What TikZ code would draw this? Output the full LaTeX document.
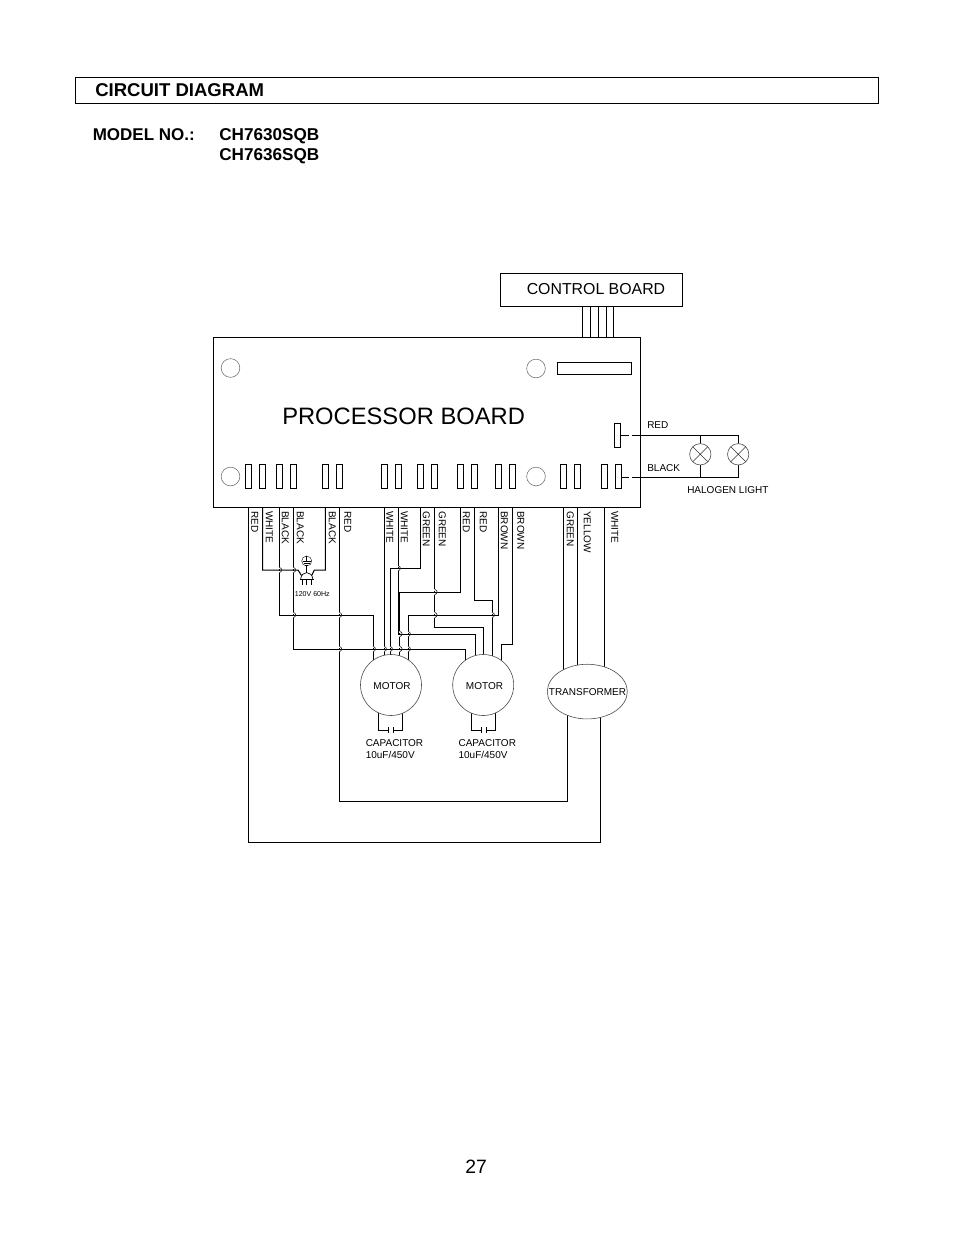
\documentclass[tikz,border=0pt]{standalone}
\usepackage{fontspec}
\setmainfont{Liberation Sans}
\usetikzlibrary{shapes.geometric,backgrounds}
\tikzset{
	wire/.style={line width=0.75pt,line join=miter},
	hopline/.style={line width=0.5pt,black!85},
	terminal/.style={draw,line width=0.65pt,rectangle,inner sep=0pt,minimum width=4.5pt,minimum height=18pt},
	hole/.style={draw=black!60,line width=0.4pt,circle,inner sep=0pt,minimum size=14pt},
	tiny label/.style={font=\fontsize{7.5}{9}\selectfont,inner sep=0pt},
	wire label/.style={tiny label,rotate=-90,anchor=west},
	motor/.style={draw=black!70,line width=0.45pt,fill=white,circle,inner sep=0pt,minimum size=45.75pt,tiny label},
	lamp/.style={draw=black!70,line width=0.45pt,fill=white,circle,inner sep=0pt,minimum size=16pt,path picture={\draw[black!80,line width=0.4pt] (path picture bounding box.south west)--(path picture bounding box.north east) (path picture bounding box.north west)--(path picture bounding box.south east);}}
}
\begin{document}
\begin{tikzpicture}[x=0.75pt,y=-0.75pt]
	\useasboundingbox (0,0) rectangle (954,1235);
	% heading
	\node[draw,line width=0.7pt,rectangle,inner sep=0pt,minimum width=602.25pt,minimum height=19.5pt] (headbox) at (477,90.5) {};
	\node[anchor=west,inner sep=0pt,font=\fontsize{13.9}{16}\bfseries\selectfont] (headtext) at (95,90) {CIRCUIT DIAGRAM};
	\node[anchor=base west,inner sep=0pt,font=\fontsize{12.75}{15}\bfseries\selectfont] (modelno) at (92.5,140.3) {MODEL NO.:};
	\node[anchor=base west,inner sep=0pt,font=\fontsize{12.85}{15}\bfseries\selectfont] (modelA) at (219,140.3) {CH7630SQB};
	\node[anchor=base west,inner sep=0pt,font=\fontsize{12.85}{15}\bfseries\selectfont] (modelB) at (219,160.3) {CH7636SQB};
	\node[inner sep=0pt,font=\fontsize{14.5}{16}\selectfont] (pageno) at (476,1166.5) {27};
	% boards
	\node[draw,line width=0.7pt,rectangle,inner sep=0pt,minimum width=136.5pt,minimum height=24.4pt] (control) at (591.5,289.8) {};
	\node[anchor=west,inner sep=0pt,font=\fontsize{11.9}{14}\selectfont] (controltext) at (526.5,289) {CONTROL BOARD};
	\node[draw,line width=0.75pt,rectangle,inner sep=0pt,minimum width=320.25pt,minimum height=127.5pt] (board) at (427,422.5) {};
	\node[anchor=west,inner sep=0pt,font=\fontsize{17.8}{20}\selectfont] (boardtext) at (282,416) {PROCESSOR BOARD};
	\foreach \x/\y [count=\i] in {230.5/368,536/368.5,230.5/476.5,536/476.5}
	\node[hole] (hole\i) at (\x,\y) {};
	\node[terminal,minimum width=55.5pt,minimum height=9pt] (strip) at (594.3,368.3) {};
	\node[terminal,minimum height=18pt] (port) at (617.3,435.3) {};
	% terminals along the lower edge
	\foreach \x [count=\i] in {248.7,262.7,279.3,293.3,325.3,339.3,384,398,420.7,434.7,460.3,474.3,498.3,512.3,563.3,577.3,604.7,618.7}
	\node[terminal] (t\i) at (\x,476.3) {};
	% wire names
	\foreach \x/\wtext [count=\i] in {254.8/RED,269.3/WHITE,285.3/BLACK,300.3/BLACK,332.3/BLACK,347.8/RED,389.8/WHITE,404.3/WHITE,426.3/GREEN,442.3/GREEN,466.3/RED,483.3/RED,504.3/BROWN,520.8/BROWN,570.3/GREEN,587.3/YELLOW,614.8/WHITE}
	\node[wire label] (lab\i) at (\x,511) {\wtext};
	% loads
	\node[motor] (motorA) at (391,685) {};
	\node[tiny label] (motorAtext) at (392,686) {MOTOR};
	\node[motor] (motorB) at (483.2,685) {};
	\node[tiny label] (motorBtext) at (484.5,686) {MOTOR};
	\node[draw=black!70,line width=0.45pt,fill=white,ellipse,inner sep=0pt,minimum width=60pt,minimum height=41pt] (trafo) at (587.3,691.6) {};
	\node[tiny label] (trafotext) at (587.5,692) {TRANSFORMER};
	\node[lamp] (lampA) at (700.3,454.3) {};
	\node[lamp] (lampB) at (738.2,454.3) {};
	\node[tiny label,anchor=west] (redtext) at (647,425) {RED};
	\node[tiny label,anchor=west] (blacktext) at (647,468) {BLACK};
	\node[tiny label,anchor=west] (halogen) at (687,490) {HALOGEN LIGHT};
	\node[tiny label,anchor=north west,align=left] (capA) at (365.5,739) {CAPACITOR\\10uF/450V};
	\node[tiny label,anchor=north west,align=left] (capB) at (458.3,739) {CAPACITOR\\10uF/450V};
	\node[inner sep=0pt,font=\fontsize{5.3}{6}\selectfont] (mains) at (312.3,594) {120V 60Hz};
	% mains plug
	\node[draw=black!80,line width=0.4pt,circle,inner sep=0pt,minimum size=7.5pt] (ground) at (306.7,561) {};
	\draw[line width=0.4pt] (ground.north)--(ground.center) (302.7,561)--(310.7,561) (303.7,563)--(309.7,563) (305,565)--(308.4,565);
	\draw[line width=0.4pt] (ground.south)--(306.7,573);
	\draw[line width=0.5pt] (300.7,579) .. controls (301.5,570.5) and (312,570.5) .. (312.8,579);
	\draw[line width=0.75pt] (299.7,579.5)--(313.7,579.5);
	\draw[line width=0.5pt] (302.3,579.5)--(302.3,585) (306.7,579.5)--(306.7,585) (311,579.5)--(311,585);
	\begin{scope}[on background layer]
	% control board to processor board
	\foreach \x in {582.3,590.3,598.3,606.3,613.7}
	\draw[wire] (\x,306 |- control.south)--(\x,306 |- board.north);
	% halogen lights
	\draw[wire] (port.east |- 0,435)--(628.7,435);
	\draw[wire] (632,435)--(738.2,435)--(lampB.center)--(738.2,477.3)--(632,477.3);
	\draw[wire] (t18.east |- 0,477.3)--(628.7,477.3);
	\draw[wire] (700.3,435)--(lampA.center)--(700.3,477.3);
	% mains side
	\draw[wire] (t1 |- board.south)--(t1 |- 0,842)--(600,842)--(600,691);
	\draw[wire] (t6 |- board.south)--(t6 |- 0,801)--(567.7,801)--(567.7,691);
	\draw[wire] (t2 |- board.south)--(t2 |- 0,570)--(298,570)--(301.5,575.5);
	\draw[wire] (t5 |- board.south)--(t5 |- 0,570)--(314.3,570)--(311.7,575.5);
	\draw[wire] (t3 |- board.south)--(t3 |- 0,615)--(373,615)--(373,615 |- motorA.center);
	\draw[wire] (t4 |- board.south)--(t4 |- 0,649)--(465.7,649)--(465.7,649 |- motorB.center);
	% motor wires
	\draw[wire] (t7 |- board.south)--(t7 |- motorA.center);
	\draw[wire] (t9 |- board.south)--(t9 |- 0,568.3)--(390,568.3)--(390,568 |- motorA.center);
	\draw[wire] (t8 |- board.south)--(t8 |- 0,634)--(475.7,634)--(475.7,634 |- motorB.center);
	\draw[wire] (t10 |- board.south)--(t10 |- 0,627)--(483,627)--(483,627 |- motorB.center);
	\draw[wire] (t11 |- board.south)--(t11 |- 0,592)--(399.7,592)--(399.7,592 |- motorA.center);
	\draw[wire] (t12 |- board.south)--(t12 |- 0,600)--(492,600)--(492,600 |- motorB.center);
	\draw[wire] (t13 |- board.south)--(t13 |- 0,615)--(408,615)--(408,615 |- motorA.center);
	\draw[wire] (t14 |- board.south)--(t14 |- 0,644)--(501,644)--(501,644 |- motorB.center);
	% transformer feeds
	\draw[wire] (t15 |- board.south)--(t15 |- trafo.center);
	\draw[wire] (t16 |- board.south)--(t16 |- trafo.center);
	\draw[wire] (t17 |- board.south)--(t17 |- trafo.center);
	% capacitors
	\foreach \motor/\xl/\pl/\pr/\xr in {motorA/378.3/388.7/393.3/402.3,motorB/471.3/481.7/486/495.7}{
	\draw[wire] (\xl,700 |- \motor.center)--(\xl,730)--(\pl,730);
	\draw[wire] (\xr,700 |- \motor.center)--(\xr,730)--(\pr,730);
	\draw[wire] (\pl,727)--(\pl,733) (\pr,727)--(\pr,733);
	}
	\end{scope}
	% hops where wires cross
	\foreach \hx/\hy in {279.3/570,293.3/570,398/568.3,434.7/592,293.3/615,339.3/615,434.7/615,492/615,399.7/634,408/634,339.3/649,373/649,384/649,390/649,399.7/649,408/649}{
	\draw[white,line width=1.2pt] (\hx,\hy-2.7)--(\hx,\hy-0.9) (\hx,\hy+0.9)--(\hx,\hy+2.7);
	\draw[hopline] (\hx,\hy-2.7) .. controls (\hx+3.2,\hy-1.6) and (\hx+3.2,\hy+1.6) .. (\hx,\hy+2.7);
	}
\end{tikzpicture}
\end{document}
